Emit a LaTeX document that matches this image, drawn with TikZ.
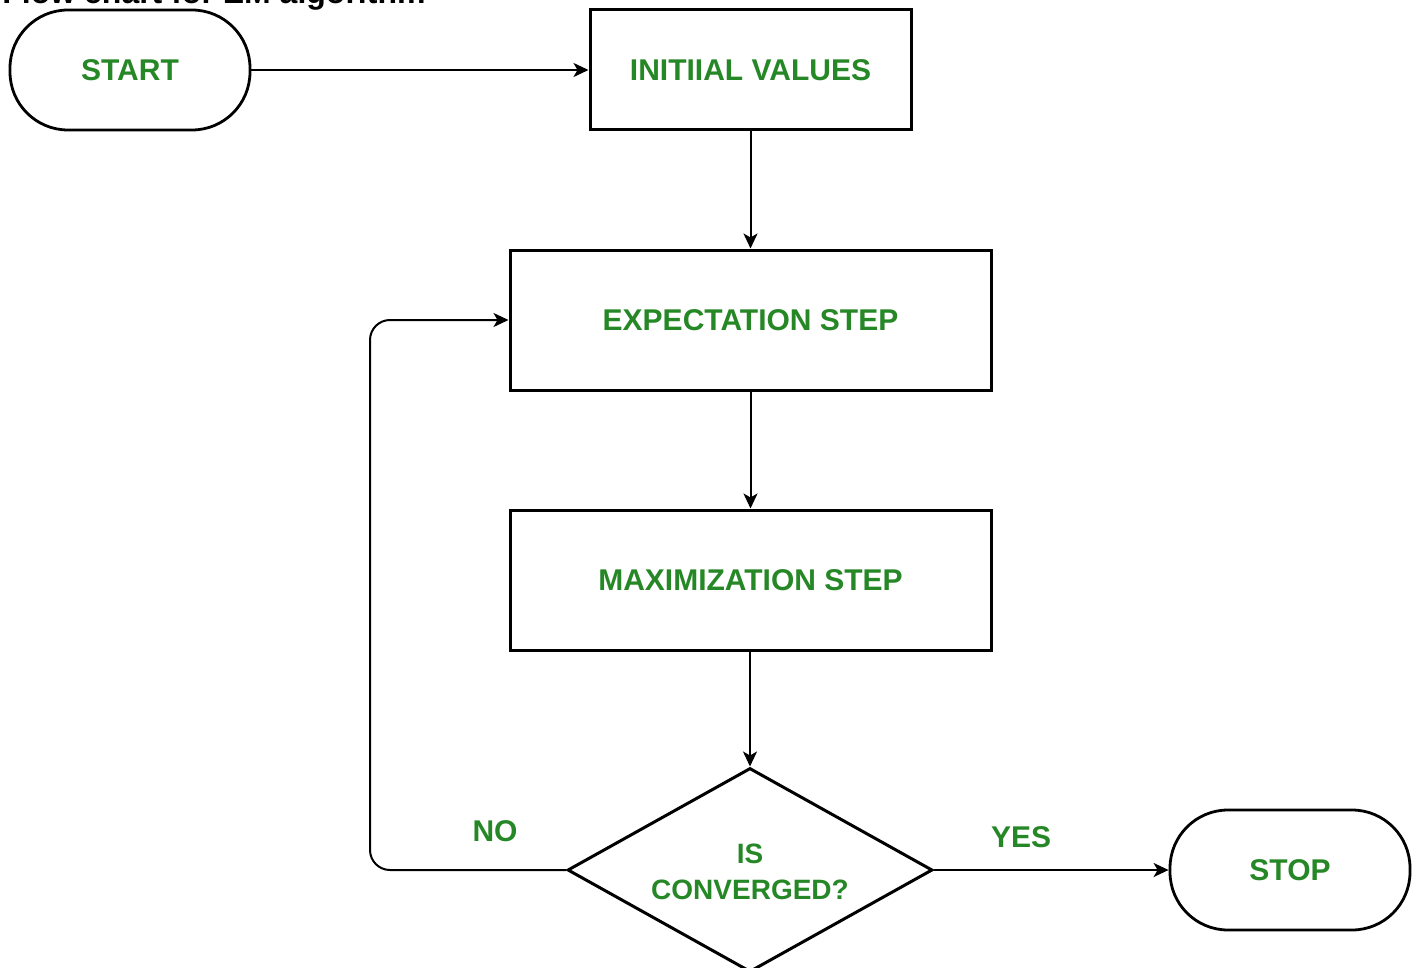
\documentclass[tikz,border=0pt]{standalone}
\usepackage{fontspec}
\setmainfont{Liberation Sans}
\usetikzlibrary{shapes.geometric,arrows.meta}
\definecolor{txtgreen}{RGB}{38,135,38}
\tikzset{
  lbl/.style={text=txtgreen,font=\fontsize{15}{18}\selectfont\bfseries},
  term/.style={draw=black,line width=1.4pt,rounded corners=29pt,minimum width=120pt,minimum height=60pt,inner sep=0pt,lbl},
  procbox/.style={draw=black,line width=1.5pt,inner sep=0pt,lbl},
  decis/.style={draw=black,line width=1.5pt,diamond,inner sep=0pt,minimum width=182.5pt,minimum height=102pt},
  conn/.style={line width=1pt,-{Stealth[length=7.5pt,width=7pt,inset=2pt]}},
  plain/.style={lbl,inner sep=0pt}
}
\begin{document}
\begin{tikzpicture}[x=0.5pt,y=-0.5pt]
\useasboundingbox (0,0) rectangle (1412,968);
\begin{scope}
\clip (0,0) rectangle (1412,968);
\node[anchor=base west,inner sep=0pt,font=\fontsize{16}{19}\selectfont\bfseries] (title) at (2,4) {Flow chart for EM algorithm};
\node[term] (start) at (130,70) {START};
\node[procbox,minimum width=160.5pt,minimum height=60pt] (init) at (750.5,70) {INITIIAL VALUES};
\node[procbox,minimum width=240.5pt,minimum height=70pt] (exp) at (750.5,320) {EXPECTATION STEP};
\node[procbox,minimum width=240.5pt,minimum height=70pt] (max) at (750.5,580) {MAXIMIZATION STEP};
\node[decis] (conv) at (750,870) {};
\node[lbl,font=\fontsize{14}{18}\selectfont\bfseries,align=center,inner sep=0pt] (convtext) at (750,872) {IS\\CONVERGED?};
\node[term] (stop) at (1290,870) {STOP};
\coordinate (lb) at (370,870);
\coordinate (lt) at (370,320);
\draw[conn] (start.east) -- (init.west);
\draw[conn] (init.south) -- (exp.north);
\draw[conn] (exp.south) -- (max.north);
\draw[conn] (max.south -| conv.north) -- (conv.north);
\draw[conn] (conv.east) -- (stop.west);
\draw[conn,rounded corners=10pt] (conv.west) -- (lb) -- (lt) -- (exp.west);
\node[plain] (no) at (495,831) {NO};
\node[plain] (yes) at (1021,837) {YES};
\end{scope}
\end{tikzpicture}
\end{document}
